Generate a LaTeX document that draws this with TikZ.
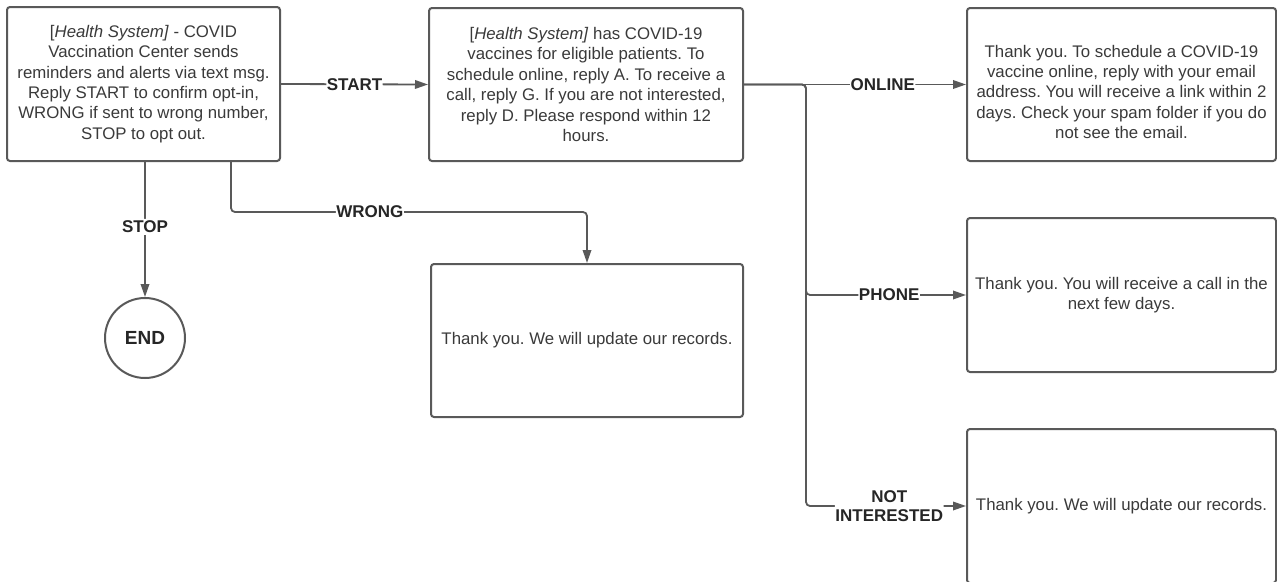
\documentclass[tikz,border=0pt]{standalone}
\usepackage{fontspec}
\setmainfont{Liberation Sans}
\frenchspacing
\usetikzlibrary{arrows.meta,calc}
\definecolor{ln}{HTML}{595959}
\definecolor{tx}{HTML}{3A3A3A}
\tikzset{
  box/.style={draw=ln, line width=2pt, rounded corners=3pt, rectangle, align=center, text=tx,
    font=\fontsize{16.8}{20.4}\selectfont, inner sep=0pt},
  conn/.style={draw=ln, line width=1.8pt, rounded corners=4pt, -{Triangle[length=13pt,width=8.5pt]}},
  lbl/.style={fill=white, text=black!85, font=\bfseries\fontsize{17}{18.5}\selectfont, inner xsep=0.5pt, inner ysep=2pt, align=center},
  endnode/.style={draw=ln, line width=2pt, circle, minimum size=80pt, inner sep=0pt, text=black!85, font=\bfseries\fontsize{19}{20}\selectfont}
}
\begin{document}
\begin{tikzpicture}[x=1pt,y=-1pt]
\clip (0,0) rectangle (1277,581);
\fill[white] (0,0) rectangle (1277,581);
\node[box, minimum width=273pt, minimum height=154pt] (b1) at (143.5,84) {[\textit{Health System]} - COVID\\Vaccination Center sends\\reminders and alerts via text msg.\\Reply START to confirm opt-in,\\WRONG if sent to wrong number,\\STOP to opt out.};
\node[box, minimum width=314pt, minimum height=153pt] (b2) at (586,84.5) {[\textit{Health System]} has COVID-19\\vaccines for eligible patients. To\\schedule online, reply A. To receive a\\call, reply G. If you are not interested,\\reply D. Please respond within 12\\hours.};
\node[box, minimum width=309pt, minimum height=153pt] (b3) at (1121.5,84.5) {\rule{0pt}{27pt}Thank you. To schedule a COVID-19\\vaccine online, reply with your email\\address. You will receive a link within 2\\days. Check your spam folder if you do\\not see the email.};
\node[box, minimum width=312pt, minimum height=153pt] (b4) at (587,340.5) {Thank you. We will update our records.};
\node[box, minimum width=309pt, minimum height=154pt] (b5) at (1121.5,295) {Thank you. You will receive a call in the\\next few days.};
\node[box, minimum width=309pt, minimum height=154pt] (b6) at (1121.5,506) {Thank you. We will update our records.};
\node[endnode] (end) at (145,338) {END};
\coordinate (j) at (806,84.5);
% START
\draw[conn] (b1.east) -- node[lbl, pos=0.5]{START} (b2.west);
% STOP
\draw[conn] (b1.south -| end.north) -- node[lbl, pos=0.48]{STOP} (end.north);
% WRONG
\draw[conn] (b1.south -| 231,0) -- (231,212) -- node[lbl, pos=0.39]{WRONG} (b4.north |- 0,212) -- (b4.north);
% ONLINE
\draw[conn] (b2.east) -- node[lbl, pos=0.625]{ONLINE} (b3.west);
% PHONE
\draw[conn] (b2.east) -- (j) -- (j |- b5.west) -- node[lbl, pos=0.52]{PHONE} (b5.west);
% NOT INTERESTED
\draw[conn] (b2.east) -- (j) -- (j |- b6.west) -- node[lbl, pos=0.52, inner ysep=0pt]{NOT\\INTERESTED} (b6.west);
\end{tikzpicture}
\end{document}
